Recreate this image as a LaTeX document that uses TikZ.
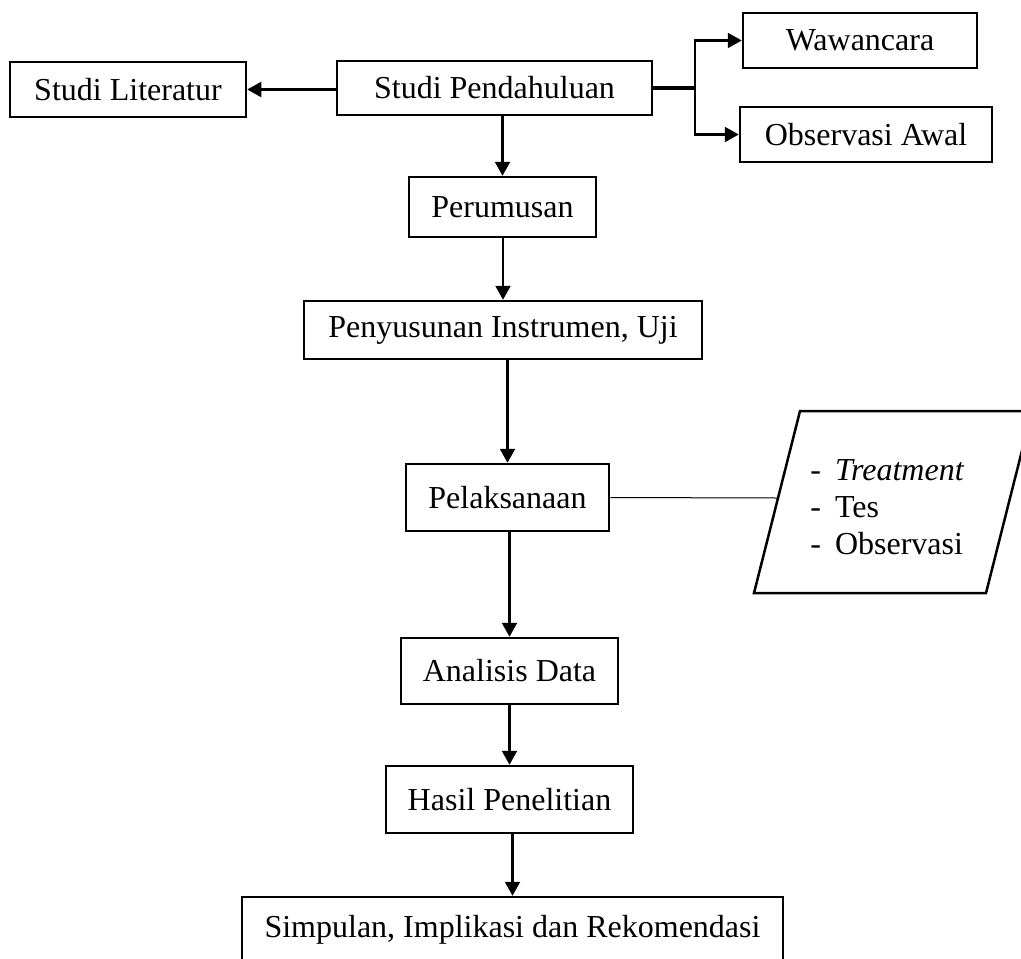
\documentclass[tikz,border=0pt]{standalone}
\usepackage{fontspec}
\setmainfont{Liberation Serif}
\usetikzlibrary{
  arrows.meta,
  positioning,
}
\tikzset{
  >={Triangle[length=7pt,width=7.5pt]},
  box/.style={draw,rectangle,line width=1.25pt,inner sep=0pt,font=\fontsize{16}{19}\selectfont},
  link/.style={line width=1.1pt},
}

\begin{document}
\begin{tikzpicture}[x=0.5pt,y=-0.5pt]

        \useasboundingbox (0,0) rectangle (1021,958);

        \node[box,minimum width=157.5pt,minimum height=27pt]    (pend) at (494.5,88)    {Studi Pendahuluan};
        \node[box,minimum width=118pt,minimum height=27.5pt]    (lit)  at (128,89.5)    {Studi Literatur};
        \node[box,minimum width=117pt,minimum height=27.5pt]    (waw)  at (860,40.5)    {Wawancara};
        \node[box,minimum width=126pt,minimum height=27.5pt]    (obs)  at (866,134.5)   {Observasi Awal};
        \node[box,minimum width=93.5pt,minimum height=30pt]     (rum)  at (502.5,207)   {Perumusan};
        \node[box,minimum width=199pt,minimum height=29pt]      (sus)  at (503,330)     {Penyusunan Instrumen, Uji};
        \node[box,minimum width=101.5pt,minimum height=33.5pt]  (lak)  at (507.5,497.5) {Pelaksanaan};
        \node[box,minimum width=108.5pt,minimum height=33pt]    (ana)  at (509.5,671)   {Analisis Data};
        \node[box,minimum width=123.5pt,minimum height=33.5pt]  (has)  at (509.5,799.5) {Hasil Penelitian};
        \node[box,minimum width=270.5pt,minimum height=33pt]    (simp) at (512.5,930)   {Simpulan, Implikasi dan Rekomendasi};

        % kegiatan pelaksanaan
        \draw[line width=1.25pt] (800,411) -- (1032,411) -- (986,593) -- (754,593) -- cycle;
        \node[anchor=west,inner sep=0pt,font=\fontsize{16}{18.5}\selectfont] (keg) at (810,510)
            {\begin{tabular}{@{}l@{\hspace{7pt}}l@{}}- & \textit{Treatment}\\ - & Tes\\ - & Observasi\end{tabular}};
        \coordinate (pin) at (778,498);

        \coordinate (br) at ([xshift=21pt]pend.east);

        \draw[->,link] (lit.east -| pend.west) -- (lit.east);
        \draw[line width=1.8pt] (pend.east) -- (br);
        \draw[->,link] (br) |- (waw.west);
        \draw[->,link] (br) |- (obs.west);
        \draw[->,link] (rum.north |- pend.south) -- (rum.north);
        \draw[->,link] (sus.north |- rum.south) -- (sus.north);
        \draw[->,link] (lak.north |- sus.south) -- (lak.north);
        \draw[->,link] (ana.north |- lak.south) -- (ana.north);
        \draw[->,link] (has.north |- ana.south) -- (has.north);
        \draw[->,link] (simp.north |- has.south) -- (simp.north);
        \draw[line width=0.5pt] (lak.east) -- (pin);

    \end{tikzpicture}
\end{document}
